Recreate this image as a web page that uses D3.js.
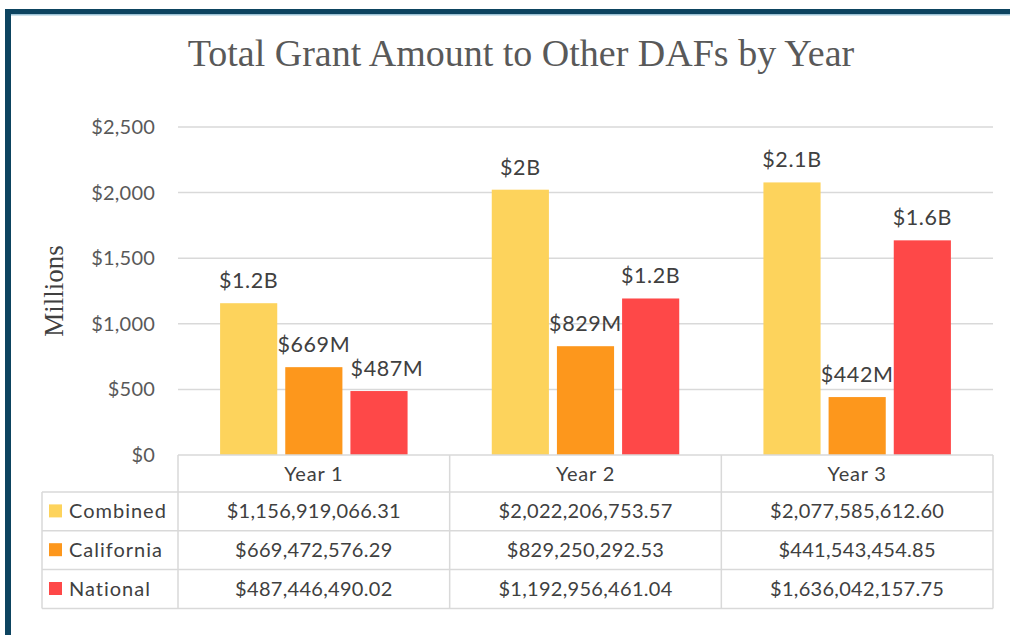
<!DOCTYPE html>
<html>
<head>
<meta charset="utf-8">
<script src="https://cdn.jsdelivr.net/npm/d3@7"></script>
<style>
  body { margin: 0; background: #fff; }
  svg { display: block; }
</style>
</head>
<body>
<svg width="1010" height="635"></svg>
<script>
var width = 1010, height = 635;

var years = ["Year 1", "Year 2", "Year 3"];
var series = ["Combined", "California", "National"];
var colors = ["#fdd35c", "#fd971c", "#fe4848"];
// millions
var combined = [1156.919, 2022.207, 2077.586];
var california = [669.473, 829.250, 441.543];
var national = [487.446, 1192.956, 1636.042];
var barLabels = [
  ["$1.2B", "$2B", "$2.1B"],
  ["$669M", "$829M", "$442M"],
  ["$487M", "$1.2B", "$1.6B"]
];
var tableText = [
  ["$1,156,919,066.31", "$2,022,206,753.57", "$2,077,585,612.60"],
  ["$669,472,576.29", "$829,250,292.53", "$441,543,454.85"],
  ["$487,446,490.02", "$1,192,956,461.04", "$1,636,042,157.75"]
];
var yTicks = [0, 500, 1000, 1500, 2000, 2500];

var values = [combined, california, national];

var svg = d3.select("svg");
var font = "Lato, 'Open Sans', sans-serif";
var textColor = "#404040";
var lineColor = "#d9d9d9";

// frame
svg.append("rect").attr("x", 5).attr("y", 9).attr("width", width - 5).attr("height", 6).attr("fill", "#0d4460");
svg.append("rect").attr("x", 11).attr("y", 14).attr("width", width - 11).attr("height", 1.5).attr("fill", "#9ec3d6");
svg.append("rect").attr("x", 5).attr("y", 9).attr("width", 6).attr("height", height - 9).attr("fill", "#0d4460");

// title
svg.append("text")
  .attr("x", 521).attr("y", 66)
  .attr("text-anchor", "middle")
  .attr("font-family", "'Liberation Serif', 'Times New Roman', serif")
  .attr("font-size", 38)
  .attr("fill", "#595959")
  .text("Total Grant Amount to Other DAFs by Year");

var plotLeft = 178, plotRight = 993, plotTop = 127, plotBottom = 455;

var x0 = d3.scaleBand().domain(years).range([plotLeft, plotRight]).padding(0);
var x1 = d3.scaleBand().domain(series).range([0, x0.bandwidth()])
  .paddingInner(0.123).paddingOuter(0.646);
var y = d3.scaleLinear().domain([0, 2500]).range([plotBottom, plotTop]);

// gridlines
svg.append("g").selectAll("line").data(yTicks.slice(1)).enter().append("line")
  .attr("x1", plotLeft).attr("x2", plotRight)
  .attr("y1", function (d) { return y(d); })
  .attr("y2", function (d) { return y(d); })
  .attr("stroke", lineColor).attr("stroke-width", 1.5);

// y tick labels
svg.append("g").selectAll("text").data(yTicks).enter().append("text")
  .attr("x", 155)
  .attr("y", function (d) { return y(d) + 7; })
  .attr("text-anchor", "end")
  .attr("font-family", font).attr("font-size", 20)
  .attr("letter-spacing", 0.2)
  .attr("fill", "#595959")
  .text(function (d) { return "$" + d3.format(",")(d); });

// axis title
svg.append("text")
  .attr("transform", "translate(63,291) rotate(-90)")
  .attr("text-anchor", "middle")
  .attr("font-family", "'Liberation Serif', 'Times New Roman', serif")
  .attr("font-size", 27)
  .attr("fill", "#404040")
  .text("Millions");

// bars
var groups = svg.append("g").selectAll("g").data(series).enter().append("g")
  .attr("fill", function (d, i) { return colors[i]; });

groups.each(function (s, si) {
  var g = d3.select(this);
  g.selectAll("rect").data(values[si]).enter().append("rect")
    .attr("x", function (d, i) { return x0(years[i]) + x1(s); })
    .attr("y", function (d) { return y(d); })
    .attr("width", x1.bandwidth())
    .attr("height", function (d) { return plotBottom - y(d); });
  g.selectAll("text").data(values[si]).enter().append("text")
    .attr("x", function (d, i) {
      var cx = x0(years[i]) + x1(s) + x1.bandwidth() / 2;
      // excel nudges the first national label right so it clears its neighbour
      if (si == 2 && i == 0) cx += 8;
      return cx;
    })
    .attr("y", function (d) { return y(d) - 15; })
    .attr("text-anchor", "middle")
    .attr("font-family", font).attr("font-size", 21.5)
    .attr("letter-spacing", 0.6)
    .attr("fill", textColor)
    .text(function (d, i) { return barLabels[si][i]; });
});

// data table
var headTop = plotBottom, rowTop = 492, rowH = 38.8, tableLeft = 42;
var tableBottom = rowTop + rowH * 3;
var t = svg.append("g").attr("stroke", lineColor).attr("stroke-width", 1.5);
t.append("line").attr("x1", plotLeft).attr("x2", plotRight).attr("y1", headTop).attr("y2", headTop);
[0, 1, 2, 3].forEach(function (r) {
  t.append("line").attr("x1", tableLeft).attr("x2", plotRight)
    .attr("y1", rowTop + r * rowH).attr("y2", rowTop + r * rowH);
});
t.append("line").attr("x1", tableLeft).attr("x2", tableLeft).attr("y1", rowTop).attr("y2", tableBottom);
years.forEach(function (yr) {
  t.append("line").attr("x1", x0(yr)).attr("x2", x0(yr)).attr("y1", headTop).attr("y2", tableBottom);
});
t.append("line").attr("x1", plotRight).attr("x2", plotRight).attr("y1", headTop).attr("y2", tableBottom);

// header labels
svg.append("g").selectAll("text").data(years).enter().append("text")
  .attr("x", function (d) { return x0(d) + x0.bandwidth() / 2; })
  .attr("y", 481)
  .attr("text-anchor", "middle")
  .attr("font-family", font).attr("font-size", 20)
  .attr("letter-spacing", 0.8)
  .attr("fill", textColor)
  .text(function (d) { return d; });

// legend rows
series.forEach(function (s, si) {
  var cy = rowTop + si * rowH + rowH / 2;
  svg.append("rect").attr("x", 49).attr("y", cy - 7).attr("width", 13).attr("height", 13)
    .attr("fill", colors[si]);
  svg.append("text").attr("x", 69).attr("y", cy + 7)
    .attr("font-family", font).attr("font-size", 20)
    .attr("letter-spacing", 1.0)
    .attr("fill", textColor).text(s);
  svg.append("g").selectAll("text").data(tableText[si]).enter().append("text")
    .attr("x", function (d, i) { return x0(years[i]) + x0.bandwidth() / 2; })
    .attr("y", cy + 7)
    .attr("text-anchor", "middle")
    .attr("font-family", font).attr("font-size", 20)
    .attr("letter-spacing", 0.3)
    .attr("fill", textColor)
    .text(function (d) { return d; });
});
</script>
</body>
</html>
